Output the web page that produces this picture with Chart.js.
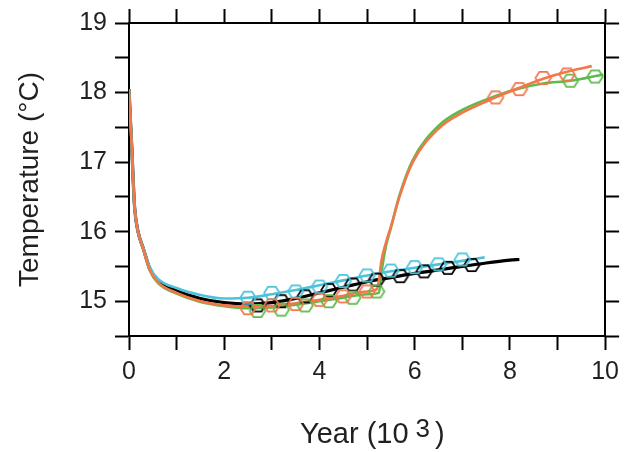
<!DOCTYPE html>
<html>
<head>
<meta charset="utf-8">
<title>Temperature</title>
<script src="https://cdn.jsdelivr.net/npm/chart.js@4.4.1/dist/chart.umd.min.js"></script>
<style>
  html, body { margin: 0; padding: 0; background: #fff; }
  #chart { display: block; }
</style>
</head>
<body>
<canvas id="chart" width="626" height="452"></canvas>
<script>
'use strict';

// curves (year in 10^3, temperature in degC)
var blackYears = [0, 0.03, 0.06, 0.09, 0.12, 0.19, 0.3, 0.43, 0.61, 1.0, 1.5, 2.0, 2.5, 3.0, 3.5, 4.0, 4.5, 5.0, 5.5, 6.0, 6.5, 7.0, 7.5, 8.0, 8.2];
var blackTemps = [18.05, 17.6, 17.19, 16.71, 16.33, 16.0, 15.76, 15.48, 15.29, 15.15, 15.04, 14.98, 14.96, 14.98, 15.04, 15.12, 15.2, 15.28, 15.34, 15.4, 15.45, 15.5, 15.55, 15.59, 15.6];

var cyanYears = [0, 0.03, 0.06, 0.09, 0.12, 0.19, 0.3, 0.43, 0.61, 1.0, 1.5, 2.0, 2.5, 3.0, 3.5, 4.0, 4.5, 5.0, 5.5, 6.0, 6.5, 7.0, 7.47];
var cyanTemps = [18.05, 17.6, 17.19, 16.71, 16.33, 16.0, 15.77, 15.5, 15.32, 15.19, 15.09, 15.04, 15.05, 15.1, 15.16, 15.23, 15.3, 15.37, 15.43, 15.48, 15.53, 15.58, 15.63];

var orangeYears = [0, 0.03, 0.06, 0.09, 0.12, 0.19, 0.3, 0.43, 0.61, 1.0, 1.5, 2.0, 2.5, 3.0, 3.5, 4.0, 4.5, 5.0, 5.2, 5.25, 5.3, 5.4, 5.5, 5.68, 5.96, 6.5, 7.0, 7.7, 8.2, 8.7, 9.2, 9.72];
var orangeTemps = [18.05, 17.6, 17.19, 16.71, 16.33, 16.0, 15.75, 15.46, 15.27, 15.12, 15.0, 14.94, 14.92, 14.93, 14.97, 15.02, 15.08, 15.14, 15.17, 15.3, 15.57, 15.85, 16.07, 16.5, 17.0, 17.48, 17.71, 17.93, 18.07, 18.2, 18.3, 18.38];

var greenYears = [0, 0.03, 0.06, 0.09, 0.12, 0.19, 0.3, 0.43, 0.61, 1.0, 1.5, 2.0, 2.5, 3.0, 3.5, 4.0, 4.5, 5.0, 5.25, 5.3, 5.4, 5.5, 5.68, 5.96, 6.5, 7.0, 7.7, 8.2, 8.7, 9.27, 9.96];
var greenTemps = [18.05, 17.6, 17.19, 16.71, 16.33, 16.0, 15.74, 15.45, 15.26, 15.11, 14.99, 14.93, 14.9, 14.91, 14.95, 15.0, 15.05, 15.1, 15.12, 15.4, 15.8, 16.05, 16.52, 17.03, 17.52, 17.75, 17.95, 18.06, 18.13, 18.17, 18.26];

// hexagon markers
var blackMarkYears = [2.7, 3.2, 3.7, 4.2, 4.7, 5.2, 5.7, 6.2, 6.7, 7.2];
var blackMarkTemps = [14.94, 15.0, 15.07, 15.16, 15.24, 15.31, 15.36, 15.43, 15.48, 15.52];

var cyanMarkYears = [2.5, 3.0, 3.5, 4.0, 4.5, 5.0, 5.5, 6.0, 6.5, 7.0];
var cyanMarkTemps = [15.05, 15.12, 15.14, 15.21, 15.29, 15.37, 15.44, 15.49, 15.53, 15.6];

var orangeMarkYears = [2.5, 3.0, 3.5, 4.0, 4.5, 5.0, 7.7, 8.2, 8.7, 9.2];
var orangeMarkTemps = [14.9, 14.94, 14.96, 15.02, 15.07, 15.14, 17.93, 18.05, 18.21, 18.26];

var greenMarkYears = [2.7, 3.2, 3.7, 4.2, 4.7, 5.2, 9.27, 9.79];
var greenMarkTemps = [14.86, 14.88, 14.94, 15.0, 15.05, 15.14, 18.17, 18.23];

var colors = {
  black: '#000000',
  cyan: '#4cc3da',
  orange: '#f4774a',
  green: '#5cbb4c',
  text: '#231f20'
};

var fontFamily = '"Liberation Sans", Arial, Helvetica, sans-serif';

function toPoints(xs, ys) {
  var out = [];
  for (var i = 0; i < xs.length; i++) out.push({ x: xs[i], y: ys[i] });
  return out;
}

function hexagon(color) {
  var c = document.createElement('canvas');
  c.width = 20;
  c.height = 20;
  var g = c.getContext('2d');
  g.strokeStyle = color;
  g.lineWidth = 1.7;
  g.beginPath();
  for (var k = 0; k < 6; k++) {
    var a = k * Math.PI / 3;
    var px = 10 + 7.8 * Math.cos(a);
    var py = 10 + 7.0 * Math.sin(a);
    if (k === 0) g.moveTo(px, py); else g.lineTo(px, py);
  }
  g.closePath();
  g.stroke();
  return c;
}

function lineSet(xs, ys, color, width) {
  return {
    data: toPoints(xs, ys),
    borderColor: color,
    borderWidth: width,
    pointRadius: 0,
    fill: false,
    cubicInterpolationMode: 'monotone'
  };
}

function markSet(xs, ys, color) {
  return {
    data: toPoints(xs, ys),
    showLine: false,
    pointStyle: hexagon(color),
    pointRadius: 8,
    borderColor: color
  };
}

var tickGrid = {
  drawOnChartArea: false,
  drawTicks: true,
  tickLength: 14,
  tickWidth: 2,
  tickColor: '#000'
};
var axisBorder = { display: true, color: '#000', width: 2 };

// x title with raised exponent
var xTitlePlugin = {
  id: 'xTitle',
  afterDraw: function (chart) {
    var ctx = chart.ctx;
    var area = chart.chartArea;
    var cx = (area.left + area.right) / 2;
    ctx.save();
    ctx.fillStyle = colors.text;
    ctx.textAlign = 'left';
    ctx.textBaseline = 'alphabetic';
    ctx.font = '29px ' + fontFamily;
    var main = 'Year (10';
    var x0 = cx - 67;
    var base = area.bottom + 107;
    ctx.fillText(main, x0, base);
    var x1 = x0 + ctx.measureText(main).width + 7;
    ctx.font = '26px ' + fontFamily;
    ctx.fillText('3', x1, base - 6);
    var x2 = x1 + ctx.measureText('3').width + 5;
    ctx.font = '29px ' + fontFamily;
    ctx.fillText(')', x2, base);
    ctx.restore();
  }
};

// first dataset is painted last, so the top layers come first
new Chart(document.getElementById('chart'), {
  type: 'line',
  data: {
    datasets: [
      markSet(orangeMarkYears, orangeMarkTemps, colors.orange),
      markSet(cyanMarkYears, cyanMarkTemps, colors.cyan),
      markSet(greenMarkYears, greenMarkTemps, colors.green),
      markSet(blackMarkYears, blackMarkTemps, colors.black),
      lineSet(orangeYears, orangeTemps, colors.orange, 2.6),
      lineSet(cyanYears, cyanTemps, colors.cyan, 2.6),
      lineSet(greenYears, greenTemps, colors.green, 2.6),
      lineSet(blackYears, blackTemps, colors.black, 3.2)
    ]
  },
  options: {
    responsive: false,
    animation: false,
    devicePixelRatio: 1,
    layout: { padding: 0 },
    plugins: {
      legend: { display: false },
      tooltip: { enabled: false }
    },
    scales: {
      x: {
        type: 'linear',
        position: 'bottom',
        min: 0,
        max: 10,
        grid: tickGrid,
        border: axisBorder,
        ticks: {
          stepSize: 1,
          autoSkip: false,
          maxRotation: 0,
          padding: 7,
          color: colors.text,
          font: { family: fontFamily, size: 25 },
          callback: function (v) { return v % 2 === 0 ? String(v) : ''; }
        },
        afterFit: function (s) { s.height = 116; }
      },
      x2: {
        type: 'linear',
        position: 'top',
        min: 0,
        max: 10,
        grid: tickGrid,
        border: axisBorder,
        ticks: { stepSize: 1, display: false },
        afterFit: function (s) { s.height = 20; }
      },
      y: {
        type: 'linear',
        position: 'left',
        min: 14.5,
        max: 19,
        grid: tickGrid,
        border: axisBorder,
        title: {
          display: true,
          text: 'Temperature (°C)',
          color: colors.text,
          font: { family: fontFamily, size: 28 },
          padding: { top: 13, bottom: 0 }
        },
        ticks: {
          stepSize: 0.5,
          autoSkip: false,
          padding: 8,
          color: colors.text,
          font: { family: fontFamily, size: 25 },
          callback: function (v) { return Number.isInteger(v) ? String(v) : ''; }
        },
        afterFit: function (s) { s.width = 129; }
      },
      y2: {
        type: 'linear',
        position: 'right',
        min: 14.5,
        max: 19,
        grid: tickGrid,
        border: axisBorder,
        ticks: { stepSize: 0.5, display: false },
        afterFit: function (s) { s.width = 14; }
      }
    }
  },
  plugins: [xTitlePlugin]
});
</script>
</body>
</html>
